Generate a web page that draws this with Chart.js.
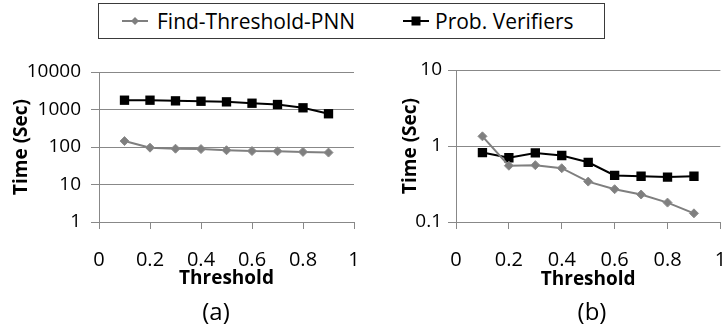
<!DOCTYPE html>
<html><head><meta charset="utf-8">
<script src="https://cdn.jsdelivr.net/npm/chart.js@4/dist/chart.umd.min.js"></script>
<style>
html,body{margin:0;padding:0;background:#fff;}
body{width:727px;height:329px;position:relative;overflow:hidden;font-family:"Open Sans",sans-serif;color:#000;}
canvas{position:absolute;top:0;}
#legend{position:absolute;left:98px;top:3px;width:505px;height:34px;border:1px solid #3a3a3a;background:#fff;}
.lt{position:absolute;font-size:21px;line-height:34px;top:0;white-space:nowrap;}
.ic{position:absolute;top:0;}
.sub{position:absolute;font-size:24px;line-height:30px;top:296px;width:100px;text-align:center;}
</style></head><body>
<canvas id="ca" width="364" height="329" style="left:0;width:364px;height:329px"></canvas>
<canvas id="cb" width="363" height="329" style="left:364px;width:363px;height:329px"></canvas>
<div id="legend">
  <svg class="ic" style="left:23px" width="26" height="34"><line x1="0" y1="17" x2="26" y2="17" stroke="#7f7f7f" stroke-width="2"/><polygon points="13,13 17,17 13,21 9,17" fill="#7f7f7f"/></svg>
  <div class="lt" id="l1" style="left:58px"></div>
  <svg class="ic" style="left:304px" width="26" height="34"><line x1="0" y1="17" x2="26" y2="17" stroke="#000" stroke-width="2"/><rect x="8.5" y="12.5" width="9" height="9" fill="#000"/></svg>
  <div class="lt" id="l2" style="left:336px"></div>
</div>
<div class="sub" style="left:166px">(a)</div>
<div class="sub" style="left:542px">(b)</div>
<script>
const thresholds = [0.1,0.2,0.3,0.4,0.5,0.6,0.7,0.8,0.9];
const xTickValues = [0,0.2,0.4,0.6,0.8,1];
const seriesNames = ['Find-Threshold-PNN','Prob. Verifiers'];
const yTicksA = [1,10,100,1000,10000];
const yTicksB = [0.1,1,10];
const pnnA = [144,96,90,88,82,78,77,74,71];
const verA = [1770,1770,1700,1660,1600,1470,1360,1110,770];
const pnnB = [1.34,0.55,0.56,0.51,0.34,0.27,0.23,0.18,0.13];
const verB = [0.82,0.70,0.81,0.75,0.61,0.41,0.40,0.39,0.40];
const xTitle = 'Threshold';
const yTitle = 'Time (Sec)';

document.getElementById('l1').textContent = seriesNames[0];
document.getElementById('l2').textContent = seriesNames[1];

const FONT = '"Open Sans", sans-serif';
const GRID = '#888888';

function pts(vals){ return thresholds.map((x,i)=>({x:x,y:vals[i]})); }

function makeChart(id, pnn, ver, yTicks, cfg){
  new Chart(document.getElementById(id), {
    type:'line',
    data:{datasets:[
      {label:seriesNames[0], data:pts(pnn), borderColor:'#7f7f7f', backgroundColor:'#7f7f7f',
       borderWidth:2, pointStyle:'rectRot', pointRadius:4.5, pointBorderColor:'#8c8c8c', pointBorderWidth:1, tension:0},
      {label:seriesNames[1], data:pts(ver), borderColor:'#000', backgroundColor:'#000',
       borderWidth:2, pointStyle:'rect', pointRadius:6.6, pointBorderWidth:0, tension:0}
    ]},
    options:{
      responsive:false, animation:false, devicePixelRatio:1,
      layout:{padding:{left:0, right:cfg.padRight, top:cfg.top, bottom:cfg.padBottom}},
      plugins:{legend:{display:false}, tooltip:{enabled:false}},
      scales:{
        x:{type:'linear', min:0, max:1,
          afterBuildTicks:s=>{s.ticks = xTickValues.map(v=>({value:v}));},
          afterFit:s=>{s.height = cfg.xAxisH; s.paddingLeft = 0; s.paddingRight = 0;},
          ticks:{color:'#000', font:{family:FONT, size:20}, padding:cfg.xTickPad, maxRotation:0, autoSkip:false,
            callback:v=>String(v)},
          grid:{drawOnChartArea:false, color:GRID, tickLength:7},
          border:{color:GRID, width:1},
          title:{display:true, text:xTitle, color:'#000', font:{family:FONT, size:19, weight:'bold'}, padding:{top:0,bottom:0}}
        },
        y:{type:'logarithmic', min:yTicks[0], max:yTicks[yTicks.length-1],
          afterBuildTicks:s=>{s.ticks = yTicks.map(v=>({value:v, major:true}));},
          afterFit:s=>{s.width = cfg.yAxisW; s.paddingTop = 0; s.paddingBottom = 0;},
          ticks:{color:'#000', font:{family:FONT, size:19}, padding:cfg.yTickPad, autoSkip:false,
            callback:v=>String(v)},
          grid:{color:GRID, tickLength:8},
          border:{color:GRID, width:1},
          title:{display:true, text:yTitle, color:'#000', font:{family:FONT, size:19, weight:'bold'}, padding:{top:cfg.yTitlePad,bottom:0}}
        }
      }
    }
  });
}

makeChart('ca', pnnA, verA, yTicksA, {padRight:10, top:72, padBottom:39, xAxisH:68, yAxisW:99, yTickPad:10, xTickPad:19, yTitlePad:10});
makeChart('cb', pnnB, verB, yTicksB, {padRight:5, top:70, padBottom:38, xAxisH:69, yAxisW:92, yTickPad:6, xTickPad:19, yTitlePad:35});
</script>
</body></html>
